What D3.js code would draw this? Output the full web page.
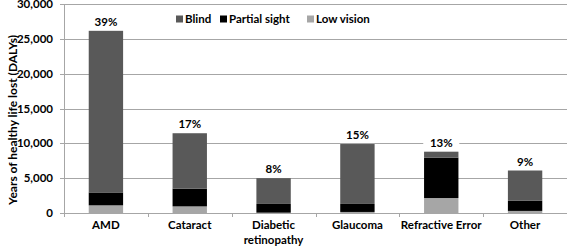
<!DOCTYPE html>
<html>
<head>
<meta charset="utf-8">
<script src="https://cdn.jsdelivr.net/npm/d3@7"></script>
<style>
  body { margin: 0; background: #fff; }
  text { font-family: Lato, "Open Sans", sans-serif; font-weight: bold; }
</style>
</head>
<body>
<div id="chart"></div>
<script>
var categories = ["AMD", "Cataract", "Diabetic retinopathy", "Glaucoma", "Refractive Error", "Other"];
var lowVision = [1100, 950, 50, 150, 2150, 300];
var partialSight = [1850, 2550, 1250, 1150, 5800, 1450];
var blind = [23200, 7950, 3700, 8600, 850, 4350];
var shares = ["39%", "17%", "8%", "15%", "13%", "9%"];
var yTicks = [0, 5000, 10000, 15000, 20000, 25000, 30000];

var seriesKeys = ["Low vision", "Partial sight", "Blind"];
var colors = {"Blind": "#595959", "Partial sight": "#000000", "Low vision": "#a6a6a6"};

var data = categories.map(function (c, i) {
    return {cat: c, "Low vision": lowVision[i], "Partial sight": partialSight[i], "Blind": blind[i], share: shares[i]};
});

var margin = {top: 4, right: 0, bottom: 37, left: 64},
    width = 567 - margin.left - margin.right,
    height = 250 - margin.top - margin.bottom;

var svg = d3.select("#chart")
    .append("svg")
    .attr("width", 567)
    .attr("height", 250)
    .append("g")
    .attr("transform", "translate(" + margin.left + "," + margin.top + ")");

var x = d3.scaleBand()
    .domain(categories)
    .range([0, width])
    .paddingInner(0.59)
    .paddingOuter(0.295);

var y = d3.scaleLinear()
    .domain([0, 30000])
    .range([height, 0]);

// gridlines
svg.selectAll(".grid")
    .data(yTicks)
    .enter()
    .append("line")
    .attr("x1", -4)
    .attr("x2", width)
    .attr("y1", function (d) { return Math.round(y(d)) + 0.5; })
    .attr("y2", function (d) { return Math.round(y(d)) + 0.5; })
    .attr("stroke", "#a6a6a6")
    .attr("stroke-width", 1);

// y axis line
svg.append("line")
    .attr("x1", 0.5).attr("x2", 0.5)
    .attr("y1", Math.round(y(30000))).attr("y2", Math.round(y(0)) + 0.5)
    .attr("stroke", "#a6a6a6");

// y tick labels
svg.selectAll(".ylab")
    .data(yTicks)
    .enter()
    .append("text")
    .attr("x", -11)
    .attr("y", function (d) { return y(d); })
    .attr("dy", "0.35em")
    .attr("text-anchor", "end")
    .style("font-size", "11.5px")
    .text(function (d) { return d3.format(",")(d); });

// x ticks at band boundaries
var step = x.step();
svg.selectAll(".xtick")
    .data(d3.range(categories.length + 1))
    .enter()
    .append("line")
    .attr("x1", function (i) { return Math.round(i * step) + 0.5; })
    .attr("x2", function (i) { return Math.round(i * step) + 0.5; })
    .attr("y1", Math.round(y(0)))
    .attr("y2", Math.round(y(0)) + 4)
    .attr("stroke", "#a6a6a6");

// stacked bars
var stack = d3.stack().keys(seriesKeys);
var layers = stack(data);

svg.selectAll(".layer")
    .data(layers)
    .enter()
    .append("g")
    .attr("fill", function (d) { return colors[d.key]; })
    .selectAll("rect")
    .data(function (d) { return d; })
    .enter()
    .append("rect")
    .attr("x", function (d) { return x(d.data.cat); })
    .attr("y", function (d) { return y(d[1]); })
    .attr("width", x.bandwidth())
    .attr("height", function (d) { return y(d[0]) - y(d[1]); });

// percentage labels with white boxes
var lab = svg.selectAll(".share")
    .data(data)
    .enter()
    .append("g")
    .attr("transform", function (d) {
        var tot = d["Low vision"] + d["Partial sight"] + d["Blind"];
        return "translate(" + (x(d.cat) + x.bandwidth() / 2) + "," + (y(tot) - 9) + ")";
    });
lab.append("rect")
    .attr("x", -18).attr("y", -8)
    .attr("width", 36).attr("height", 16)
    .attr("fill", "#fff");
lab.append("text")
    .attr("text-anchor", "middle")
    .attr("dy", "0.35em")
    .style("font-size", "11.5px")
    .text(function (d) { return d.share; });

// x labels
svg.selectAll(".xlab")
    .data(categories)
    .enter()
    .append("text")
    .attr("text-anchor", "middle")
    .attr("x", function (d) { return x(d) + x.bandwidth() / 2; })
    .attr("y", height + 16)
    .style("font-size", "11.5px")
    .each(function (d) {
        var t = d3.select(this);
        var parts = d === "Diabetic retinopathy" ? ["Diabetic", "retinopathy"] : [d];
        parts.forEach(function (p, i) {
            t.append("tspan")
                .attr("x", x(d) + x.bandwidth() / 2)
                .attr("dy", i === 0 ? 0 : 15)
                .text(p);
        });
    });

// y axis title
svg.append("text")
    .attr("transform", "rotate(-90)")
    .attr("x", -(120 - margin.top))
    .attr("y", -47)
    .attr("text-anchor", "middle")
    .style("font-size", "12px")
    .text("Years of healthy life lost (DALYs)");

// legend
var legendItems = ["Blind", "Partial sight", "Low vision"];
var legendX = [176, 220, 307];
var legend = svg.selectAll(".legend")
    .data(legendItems)
    .enter()
    .append("g")
    .attr("transform", function (d, i) { return "translate(" + (legendX[i] - margin.left) + "," + (19 - margin.top) + ")"; });
legend.append("rect")
    .attr("x", 0).attr("y", -3.5)
    .attr("width", 7).attr("height", 7)
    .attr("fill", function (d) { return colors[d]; });
legend.append("text")
    .attr("x", 9)
    .attr("dy", "0.35em")
    .style("font-size", "11.5px")
    .text(function (d) { return d; });
</script>
</body>
</html>
